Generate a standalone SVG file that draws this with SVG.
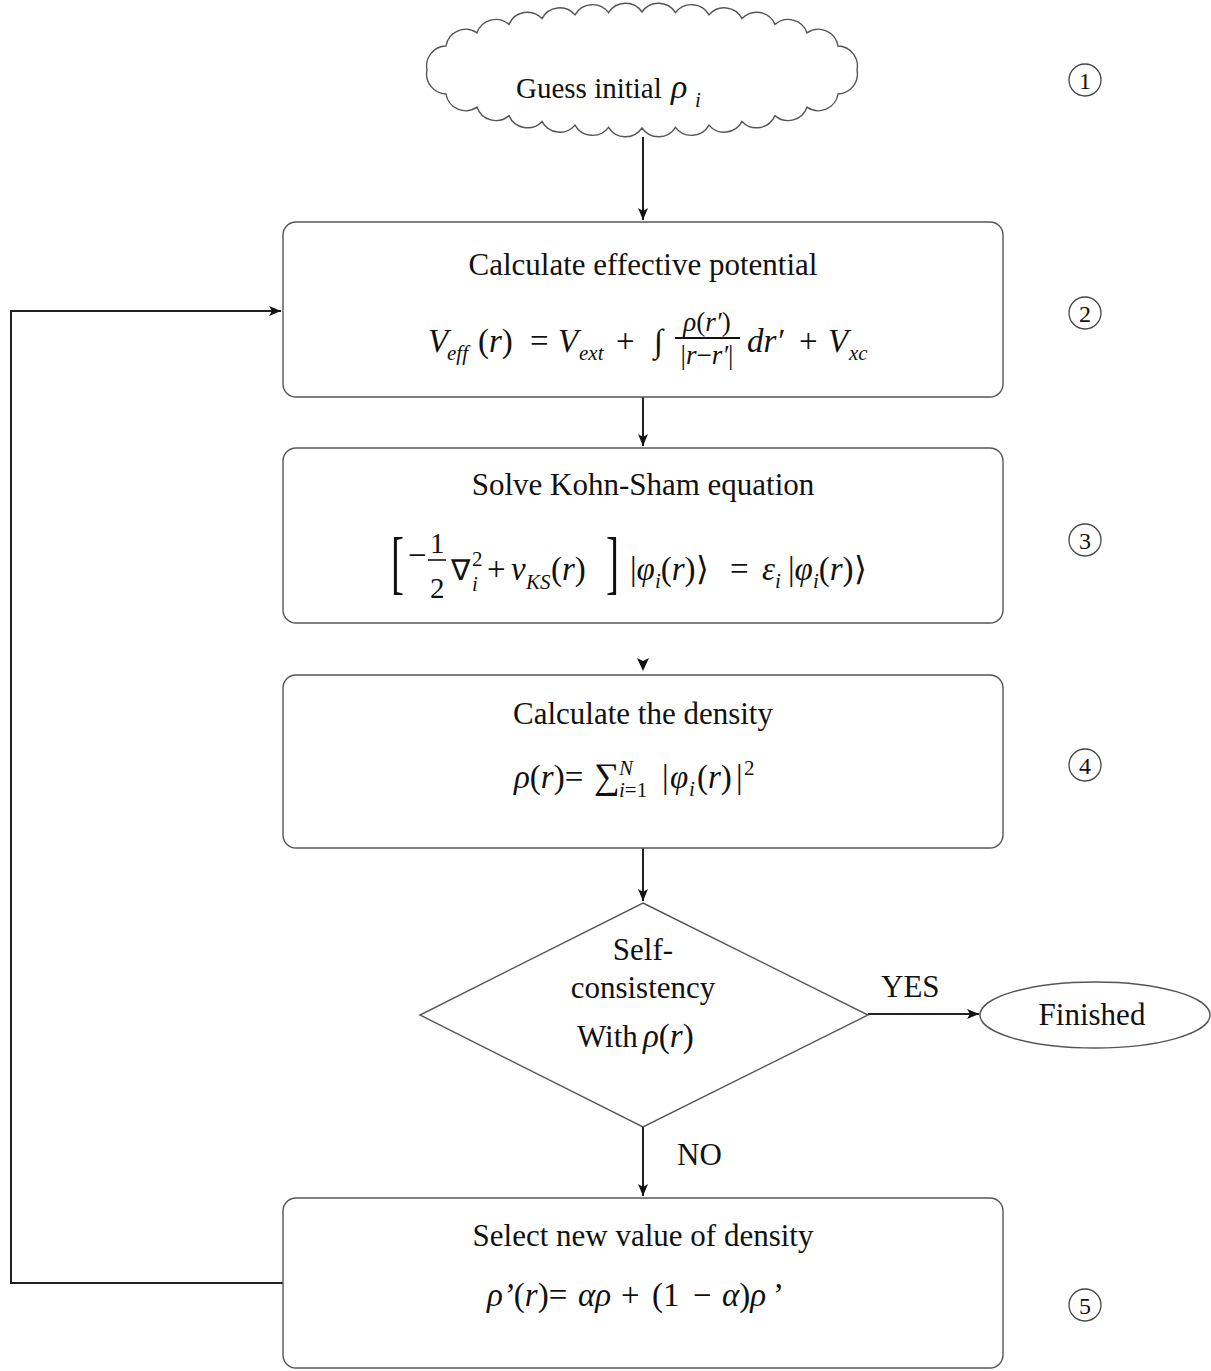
<svg xmlns="http://www.w3.org/2000/svg" width="1211" height="1371" viewBox="0 0 1211 1371">
<style>
.box{fill:#fff;stroke:#555;stroke-width:1.4}
.con{fill:none;stroke:#222;stroke-width:2}
.t{font-family:"Liberation Serif","Times New Roman",serif;font-size:31px;fill:#111}
.m{font-family:"Liberation Serif","Times New Roman",serif;font-style:italic;font-size:33px;fill:#111}
.fr{font-family:"Liberation Serif","Times New Roman",serif;font-style:italic;font-size:27px;fill:#111;text-anchor:middle}
.u{font-style:normal}
.sb{font-size:21px}
.br{font-family:"Liberation Serif",serif;font-size:30px;fill:#111}
.num{font-family:"Liberation Serif",serif;font-size:24px;fill:#111;text-anchor:middle}
.c{text-anchor:middle}
</style>
<defs>
<marker id="ah" viewBox="0 0 12 10" refX="12" refY="5" markerWidth="12" markerHeight="10" markerUnits="userSpaceOnUse" orient="auto">
<path d="M0,0 L12,5 L0,10 L3,5 Z" fill="#111"/>
</marker>
</defs>
<rect width="1211" height="1371" fill="#fff"/>

<g id="connectors">
<line class="con" x1="643" y1="137" x2="643" y2="220" marker-end="url(#ah)"/>
<line class="con" x1="643" y1="397" x2="643" y2="446" marker-end="url(#ah)"/>
<path d="M637,658 L643,671 L649,658 L643,661 Z" fill="#111"/>
<line class="con" x1="643" y1="848" x2="643" y2="901" marker-end="url(#ah)"/>
<line class="con" x1="643" y1="1127" x2="643" y2="1196" marker-end="url(#ah)"/>
<line class="con" x1="868" y1="1014" x2="979" y2="1014" marker-end="url(#ah)"/>
<polyline class="con" points="283,1283 11,1283 11,311 281,311" marker-end="url(#ah)"/>
<text class="t" x="881" y="997">YES</text>
<text class="t" x="677" y="1165">NO</text>
</g>

<g id="n1">
<path class="box" d="M857,70 A20,20 0 0 1 838,94 A20,20 0 0 1 807,107.2 A20,20 0 0 1 775,115.6 A20,20 0 0 1 742,121.4 A20,20 0 0 1 709,125.1 A20,20 0 0 1 675.5,127.3 A20,20 0 0 1 642,128 A20,20 0 0 1 608.5,127.3 A20,20 0 0 1 575,125.1 A20,20 0 0 1 542,121.4 A20,20 0 0 1 509,115.6 A20,20 0 0 1 477,107.2 A20,20 0 0 1 446,94 A20,20 0 0 1 427,70 A20,20 0 0 1 446,46 A20,20 0 0 1 477,32.8 A20,20 0 0 1 509,24.4 A20,20 0 0 1 542,18.6 A20,20 0 0 1 575,14.9 A20,20 0 0 1 608.5,12.7 A20,20 0 0 1 642,12 A20,20 0 0 1 675.5,12.7 A20,20 0 0 1 709,14.9 A20,20 0 0 1 742,18.6 A20,20 0 0 1 775,24.4 A20,20 0 0 1 807,32.8 A20,20 0 0 1 838,46 A20,20 0 0 1 857,70 Z"/>
<text class="t" x="516" y="98" style="font-size:29px">Guess initial</text>
<text class="m" x="671" y="98" style="font-size:34px">ρ</text>
<text class="m sb" x="695" y="107">i</text>
</g>

<g id="n2">
<rect class="box" x="283" y="222" width="720" height="175" rx="13"/>
<text class="t c" x="643" y="275">Calculate effective potential</text>
<text class="m" y="352"><tspan x="428">V</tspan><tspan class="sb" x="447" y="360">eff</tspan><tspan class="u" x="478" y="352">(</tspan><tspan>r</tspan><tspan class="u">)</tspan><tspan class="u" x="530">=</tspan><tspan x="558">V</tspan><tspan class="sb" x="579" y="360">ext</tspan><tspan class="u" x="616" y="352">+</tspan><tspan class="u" x="654">∫</tspan><tspan x="747">dr′</tspan><tspan class="u" x="799">+</tspan><tspan x="828">V</tspan><tspan class="sb" x="849" y="360">xc</tspan></text>
<text class="fr" x="707" y="331">ρ<tspan class="u">(</tspan>r′<tspan class="u">)</tspan></text>
<line x1="675" y1="338" x2="740" y2="338" stroke="#111" stroke-width="2"/>
<text class="fr" x="707" y="364"><tspan class="u">|</tspan>r<tspan class="u">−</tspan>r′<tspan class="u">|</tspan></text>
</g>

<g id="n3">
<rect class="box" x="283" y="448" width="720" height="175" rx="13"/>
<text class="t c" x="643" y="495">Solve Kohn-Sham equation</text>
<text class="br" transform="translate(391,586) scale(1.3,2.35)">[</text>
<text class="br" transform="translate(606,586) scale(1.3,2.35)">]</text>
<text class="m" y="580"><tspan class="u" x="408" y="566">−</tspan><tspan class="u" x="430" y="553" style="font-size:29px">1</tspan><tspan class="u" x="430" y="598" style="font-size:29px">2</tspan><tspan class="u" x="451" y="580" style="font-size:29px">∇</tspan><tspan class="sb u" x="472" y="566">2</tspan><tspan class="sb" x="472" y="591">i</tspan><tspan class="u" x="487" y="580">+</tspan><tspan x="511">v</tspan><tspan class="sb" x="526" y="589">KS</tspan><tspan class="u" x="551" y="580">(</tspan><tspan>r</tspan><tspan class="u">)</tspan><tspan class="u" x="630">|</tspan><tspan>φ</tspan><tspan class="sb" dy="8">i</tspan><tspan class="u" dy="-8">(</tspan><tspan>r</tspan><tspan class="u">)⟩</tspan><tspan class="u" x="730">=</tspan><tspan x="762">ε</tspan><tspan class="sb" dy="8">i</tspan><tspan class="u" x="788" dy="-8">|</tspan><tspan>φ</tspan><tspan class="sb" dy="8">i</tspan><tspan class="u" dy="-8">(</tspan><tspan>r</tspan><tspan class="u">)⟩</tspan></text>
<line x1="428" y1="560" x2="446" y2="560" stroke="#111" stroke-width="1.6"/>
</g>

<g id="n4">
<rect class="box" x="283" y="675" width="720" height="173" rx="13"/>
<text class="t c" x="643" y="724">Calculate the density</text>
<text class="m" y="788"><tspan x="514">ρ</tspan><tspan class="u">(</tspan><tspan>r</tspan><tspan class="u">)=</tspan><tspan class="u" x="594" style="font-size:36px">∑</tspan><tspan class="sb" x="619" y="775">N</tspan><tspan class="sb" x="619" y="797">i<tspan class="u">=1</tspan></tspan><tspan class="u" x="662" y="788">|</tspan><tspan x="670">φ</tspan><tspan class="sb" x="689" dy="8">i</tspan><tspan class="u" x="697" dy="-8">(</tspan><tspan>r</tspan><tspan class="u">)</tspan><tspan class="u" x="736">|</tspan><tspan class="sb u" x="744" dy="-13">2</tspan></text>
</g>

<g id="n5">
<polygon class="box" points="643,903 868,1015 643,1127 420,1015"/>
<text class="t c" x="643" y="960">Self-</text>
<text class="t c" x="643" y="998">consistency</text>
<text class="t" x="577" y="1047">With</text>
<text class="m" x="643" y="1047">ρ<tspan class="u">(</tspan>r<tspan class="u">)</tspan></text>
</g>

<g id="n6">
<ellipse class="box" cx="1095" cy="1015" rx="115" ry="33"/>
<text class="t c" x="1092" y="1025">Finished</text>
</g>

<g id="n7">
<rect class="box" x="283" y="1198" width="720" height="170" rx="13"/>
<text class="t c" x="643" y="1246">Select new value of density</text>
<text class="m" y="1306"><tspan x="487">ρ’</tspan><tspan class="u">(</tspan><tspan>r</tspan><tspan class="u">)=</tspan><tspan x="578">αρ</tspan><tspan class="u" x="621">+</tspan><tspan class="u" x="652">(1</tspan><tspan class="u" x="693">−</tspan><tspan x="722">α</tspan><tspan class="u">)</tspan><tspan>ρ</tspan><tspan class="u" x="773">’</tspan></text>
</g>

<g id="steps">
<circle cx="1085" cy="80" r="16" fill="none" stroke="#444" stroke-width="1.3"/>
<text class="num" x="1085" y="89">1</text>
<circle cx="1085" cy="313" r="16" fill="none" stroke="#444" stroke-width="1.3"/>
<text class="num" x="1085" y="322">2</text>
<circle cx="1085" cy="540" r="16" fill="none" stroke="#444" stroke-width="1.3"/>
<text class="num" x="1085" y="549">3</text>
<circle cx="1085" cy="765" r="16" fill="none" stroke="#444" stroke-width="1.3"/>
<text class="num" x="1085" y="774">4</text>
<circle cx="1085" cy="1305" r="16" fill="none" stroke="#444" stroke-width="1.3"/>
<text class="num" x="1085" y="1314">5</text>
</g>
</svg>
